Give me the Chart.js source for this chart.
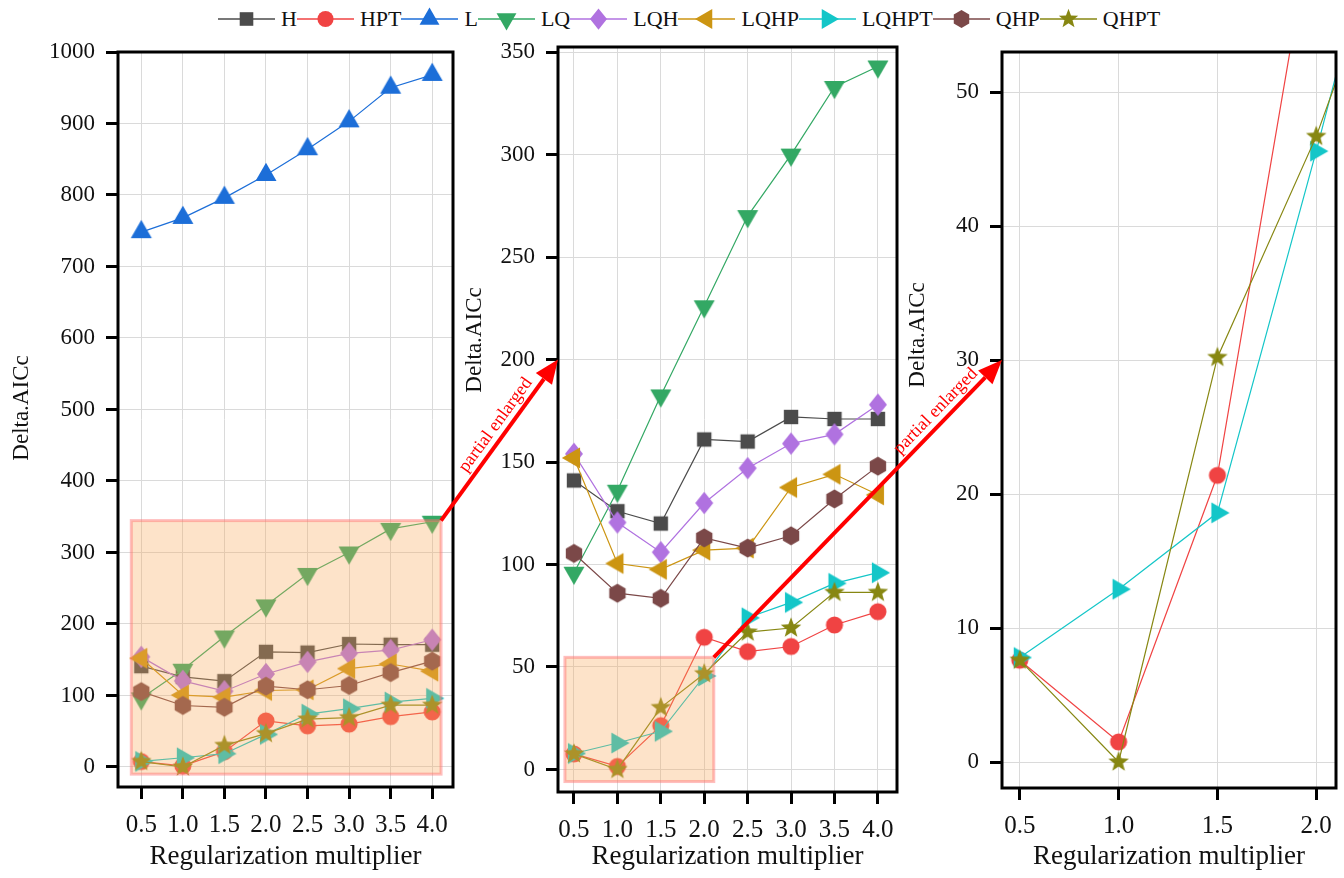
<!DOCTYPE html>
<html>
<head>
<meta charset="utf-8">
<title>Delta.AICc vs regularization multiplier</title>
<script src="https://cdn.jsdelivr.net/npm/chart.js@4.4.0/dist/chart.umd.min.js"></script>
<style>
	body { margin: 0; background: #fff; width: 1344px; height: 878px; position: relative; overflow: hidden; font-family: 'Liberation Serif', 'Times New Roman', serif; }
	canvas { position: absolute; }
	#legend { position: absolute; left: 218px; top: 7px; height: 24px; display: flex; align-items: center; font-size: 22px; color: #111; }
	#legend .item { display: flex; align-items: center; }
	#legend span { margin-left: 6px; }
</style>
</head>
<body>
<div id="legend"></div>
<canvas id="c1" width="455" height="843" style="left:0;top:35px"></canvas>
<canvas id="c2" width="445" height="843" style="left:455px;top:35px"></canvas>
<canvas id="c3" width="444" height="843" style="left:900px;top:35px"></canvas>
<canvas id="arrows" width="1344" height="878" style="left:0;top:0;pointer-events:none"></canvas>
<script>
// Data
const multipliers = [0.5, 1.0, 1.5, 2.0, 2.5, 3.0, 3.5, 4.0];
const seriesNames = ['H', 'HPT', 'L', 'LQ', 'LQH', 'LQHP', 'LQHPT', 'QHP', 'QHPT'];

const H = [141, 126, 120, 161, 160, 172, 171, 171];
const HPT = [7.6, 1.5, 21.4, 64.5, 57.5, 60, 70.5, 77];
const L = [748, 768, 796, 828, 864, 903, 950, 968];
const LQ = [96, 136, 182.5, 226, 270, 300, 333, 343];
const LQH = [154, 120.5, 106, 130, 147, 159, 163.5, 178];
const LQHP = [152, 100.5, 97.6, 107, 108, 137.6, 144, 134];
const LQHPT = [7.8, 12.9, 18.6, 45.6, 74, 81.5, 90.8, 96];
const QHP = [105.4, 86, 83.5, 113, 108, 114, 132, 148];
const QHPT = [7.6, 0, 30.2, 46.7, 67, 69, 86.4, 86.4];
const seriesValues = [H, HPT, L, LQ, LQH, LQHP, LQHPT, QHP, QHPT];

// tick labels
const xTicksFull = [0.5, 1.0, 1.5, 2.0, 2.5, 3.0, 3.5, 4.0];
const xTicksZoom = [0.5, 1.0, 1.5, 2.0];
const yTicksAll = [0, 100, 200, 300, 400, 500, 600, 700, 800, 900, 1000];
const yTicksMid = [0, 50, 100, 150, 200, 250, 300, 350];
const yTicksLow = [0, 10, 20, 30, 40, 50];

// styles
const seriesColors = ['#4b4b4b', '#f04343', '#1c6ed8', '#33a864', '#b072e0', '#cc9512', '#14c6c8', '#7b4848', '#878712'];
const seriesMarkers = ['square', 'circle', 'up', 'down', 'diamond', 'left', 'right', 'hexagon', 'star'];

const FONT = "'Liberation Serif', 'Times New Roman', serif";

function markerPath(ctx, shape, s) {
	ctx.beginPath();
	const R = 1.35 * s;
	let pts = null;
	if (shape === 'square') {
		ctx.rect(-0.8 * s, -0.8 * s, 1.6 * s, 1.6 * s);
	} else if (shape === 'circle') {
		ctx.arc(0, 0, 0.95 * s, 0, Math.PI * 2);
	} else if (shape === 'hexagon') {
		pts = [];
		for (let k = 0; k < 6; k++) {
			const a = -Math.PI / 2 + (k * Math.PI) / 3;
			pts.push([Math.cos(a) * 1.05 * s, Math.sin(a) * 1.05 * s]);
		}
	} else if (shape === 'star') {
		pts = [];
		for (let k = 0; k < 10; k++) {
			const a = -Math.PI / 2 + (k * Math.PI) / 5;
			const r = k % 2 === 0 ? 1.2 * s : 0.5 * s;
			pts.push([Math.cos(a) * r, Math.sin(a) * r]);
		}
	} else if (shape === 'up') {
		pts = [[0, -R], [0.866 * R, 0.5 * R], [-0.866 * R, 0.5 * R]];
	} else if (shape === 'down') {
		pts = [[0, R], [0.866 * R, -0.5 * R], [-0.866 * R, -0.5 * R]];
	} else if (shape === 'left') {
		pts = [[-R, 0], [0.5 * R, -0.866 * R], [0.5 * R, 0.866 * R]];
	} else if (shape === 'right') {
		pts = [[R, 0], [-0.5 * R, -0.866 * R], [-0.5 * R, 0.866 * R]];
	} else if (shape === 'diamond') {
		pts = [[0, -1.25 * s], [1.0 * s, 0], [0, 1.25 * s], [-1.0 * s, 0]];
	}
	if (pts) {
		ctx.moveTo(pts[0][0], pts[0][1]);
		pts.slice(1).forEach((p) => ctx.lineTo(p[0], p[1]));
		ctx.closePath();
	}
}

function markerImage(shape, color, s) {
	const c = document.createElement('canvas');
	c.width = 32;
	c.height = 32;
	const ctx = c.getContext('2d');
	ctx.translate(16, 16);
	markerPath(ctx, shape, s);
	ctx.fillStyle = color;
	ctx.fill();
	return c;
}

const markerImages = seriesMarkers.map((m, i) => markerImage(m, seriesColors[i], 9));

// Legend across the top
const legend = document.getElementById('legend');
seriesNames.forEach((name, i) => {
	const item = document.createElement('div');
	item.className = 'item';
	const c = document.createElement('canvas');
	c.width = 57;
	c.height = 26;
	c.style.position = 'static';
	const ctx = c.getContext('2d');
	ctx.strokeStyle = seriesColors[i];
	ctx.lineWidth = 1.5;
	ctx.beginPath();
	ctx.moveTo(0, 13);
	ctx.lineTo(57, 13);
	ctx.stroke();
	ctx.translate(28.5, 13);
	markerPath(ctx, seriesMarkers[i], 8.5);
	ctx.fillStyle = seriesColors[i];
	ctx.fill();
	const label = document.createElement('span');
	label.textContent = name;
	item.appendChild(c);
	item.appendChild(label);
	legend.appendChild(item);
});

// Frame, zoom box and y title for each panel
const panelDecor = {
	id: 'panelDecor',
	afterDatasetsDraw(chart, args, opts) {
		if (!opts.box) return;
		const { ctx, scales: { x, y } } = chart;
		const b = opts.box;
		const l = x.getPixelForValue(b.xMin);
		const r = x.getPixelForValue(b.xMax);
		const t = y.getPixelForValue(b.yMax);
		const btm = y.getPixelForValue(b.yMin);
		ctx.save();
		ctx.fillStyle = 'rgba(250, 170, 90, 0.33)';
		ctx.fillRect(l, t, r - l, btm - t);
		ctx.strokeStyle = 'rgba(255, 110, 110, 0.45)';
		ctx.lineWidth = 3;
		ctx.strokeRect(l, t, r - l, btm - t);
		ctx.restore();
	},
	afterDraw(chart, args, opts) {
		const { ctx, chartArea: a } = chart;
		ctx.save();
		ctx.strokeStyle = '#000';
		ctx.lineWidth = 3;
		ctx.strokeRect(a.left, a.top, a.right - a.left, a.bottom - a.top);
		ctx.translate(opts.titleX, opts.titleY);
		ctx.rotate(-Math.PI / 2);
		ctx.fillStyle = '#111';
		ctx.font = '23px ' + FONT;
		ctx.textAlign = 'center';
		ctx.textBaseline = 'middle';
		ctx.fillText('Delta.AICc', 0, 0);
		ctx.restore();
	},
};

function makePanel(id, cfg) {
	const datasets = seriesNames.map((name, i) => ({
		label: name,
		data: multipliers.map((m, k) => ({ x: m, y: seriesValues[i][k] })),
		borderColor: seriesColors[i],
		backgroundColor: seriesColors[i],
		borderWidth: 1.2,
		pointStyle: markerImages[i],
		pointRadius: 9,
		order: -i,
		clip: 0,
	}));
	return new Chart(document.getElementById(id), {
		type: 'line',
		data: { datasets },
		plugins: [panelDecor],
		options: {
			responsive: false,
			animation: false,
			events: [],
			layout: {
				autoPadding: false,
				padding: { top: cfg.padTop, right: cfg.padRight, left: 0, bottom: 0 },
			},
			plugins: {
				legend: { display: false },
				tooltip: { enabled: false },
				panelDecor: { box: cfg.box, titleX: cfg.titleX, titleY: cfg.titleY },
			},
			scales: {
				x: {
					type: 'linear',
					min: cfg.xMin,
					max: cfg.xMax,
					afterBuildTicks: (s) => { s.ticks = cfg.xTicks.map((v) => ({ value: v })); },
					afterFit: (s) => {
						s.height = cfg.xHeight;
						s.paddingLeft = 0;
						s.paddingRight = 0;
					},
					border: { display: false },
					grid: { color: '#dadada', lineWidth: 1, tickLength: 12, tickColor: '#000', tickWidth: 3 },
					ticks: {
						autoSkip: false,
						maxRotation: 0,
						padding: 11,
						color: '#111',
						font: { family: FONT, size: 25 },
						callback: (v) => Number(v).toFixed(1),
					},
					title: {
						display: true,
						text: 'Regularization multiplier',
						color: '#111',
						font: { family: FONT, size: 27 },
						padding: { top: 0, bottom: 5 },
					},
				},
				y: {
					min: cfg.yMin,
					max: cfg.yMax,
					afterBuildTicks: (s) => { s.ticks = cfg.yTicks.map((v) => ({ value: v })); },
					afterFit: (s) => {
						s.width = cfg.yWidth;
						s.paddingTop = 0;
						s.paddingBottom = 0;
					},
					border: { display: false },
					grid: { color: '#dadada', lineWidth: 1, tickLength: 12, tickColor: '#000', tickWidth: 3 },
					ticks: {
						padding: 11,
						color: '#111',
						font: { family: FONT, size: 23 },
						callback: (v) => String(v),
					},
				},
			},
		},
	});
}

const boxAll = { xMin: 0.38, xMax: 4.106, yMin: -10, yMax: 344.6 };
const boxMid = { xMin: 0.396, xMax: 2.11, yMin: -5.9, yMax: 54.7 };

const chart1 = makePanel('c1', {
	xMin: 0.22, xMax: 4.25, yMin: -28, yMax: 1000,
	xTicks: xTicksFull, yTicks: yTicksAll,
	padTop: 17, padRight: 2, xHeight: 91, yWidth: 118,
	box: boxAll, titleX: 22, titleY: 373,
});
const chart2 = makePanel('c2', {
	xMin: 0.316, xMax: 4.22, yMin: -11, yMax: 352.5,
	xTicks: xTicksFull, yTicks: yTicksMid,
	padTop: 12, padRight: 3, xHeight: 86, yWidth: 103,
	box: boxMid, titleX: 20, titleY: 305,
});
const chart3 = makePanel('c3', {
	xMin: 0.41, xMax: 2.1, yMin: -1.94, yMax: 53,
	xTicks: xTicksZoom, yTicks: yTicksLow,
	padTop: 17, padRight: 8, xHeight: 90, yWidth: 102,
	box: null, titleX: 18, titleY: 300,
});

// "partial enlarged" arrows between panels
function pagePoint(chart, xv, yv) {
	const c = chart.canvas;
	const x = xv === null ? chart.chartArea.left : chart.scales.x.getPixelForValue(xv);
	return [c.offsetLeft + x, c.offsetTop + chart.scales.y.getPixelForValue(yv)];
}

function drawArrow(ctx, p0, p1, t) {
	const dx = p1[0] - p0[0];
	const dy = p1[1] - p0[1];
	const len = Math.hypot(dx, dy);
	const ux = dx / len;
	const uy = dy / len;
	const head = 24;
	const hw = 10;
	ctx.save();
	ctx.strokeStyle = '#ff0000';
	ctx.fillStyle = '#ff0000';
	ctx.lineWidth = 4;
	ctx.beginPath();
	ctx.moveTo(p0[0], p0[1]);
	ctx.lineTo(p1[0] - ux * head, p1[1] - uy * head);
	ctx.stroke();
	ctx.beginPath();
	ctx.moveTo(p1[0], p1[1]);
	ctx.lineTo(p1[0] - ux * head - uy * hw, p1[1] - uy * head + ux * hw);
	ctx.lineTo(p1[0] - ux * head + uy * hw, p1[1] - uy * head - ux * hw);
	ctx.closePath();
	ctx.fill();
	// label along the arrow
	const nx = uy;
	const ny = -ux;
	ctx.translate(p0[0] + dx * t + nx * 12, p0[1] + dy * t + ny * 12);
	ctx.rotate(Math.atan2(dy, dx));
	ctx.font = '18px ' + FONT;
	ctx.textAlign = 'center';
	ctx.textBaseline = 'middle';
	ctx.fillText('partial enlarged', 0, 0);
	ctx.restore();
}

const actx = document.getElementById('arrows').getContext('2d');
drawArrow(actx, pagePoint(chart1, boxAll.xMax, boxAll.yMax), pagePoint(chart2, null, 200), 0.55);
drawArrow(actx, pagePoint(chart2, boxMid.xMax, boxMid.yMax), pagePoint(chart3, null, 30), 0.8);
</script>
</body>
</html>
